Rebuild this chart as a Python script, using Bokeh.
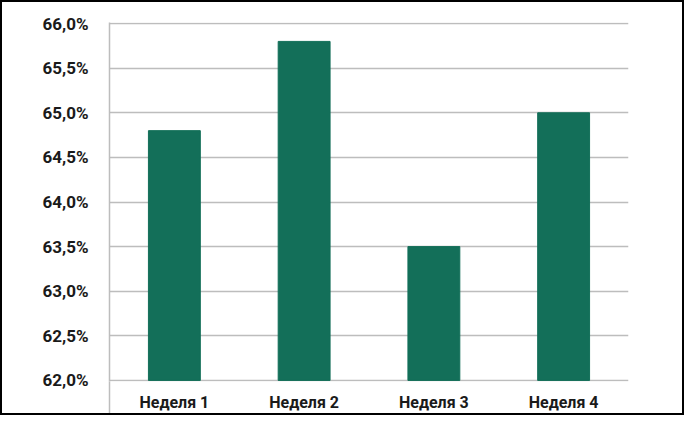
from bokeh.plotting import figure
from bokeh.models import Range1d, FixedTicker, LinearAxis
from bokeh.embed import file_html
from bokeh.resources import INLINE

categories = ["Неделя 1", "Неделя 2", "Неделя 3", "Неделя 4"]
values = [64.8, 65.8, 63.5, 65.0]
y_ticks = [62.0, 62.5, 63.0, 63.5, 64.0, 64.5, 65.0, 65.5, 66.0]
y_labels = ["62,0%", "62,5%", "63,0%", "63,5%", "64,0%", "64,5%", "65,0%", "65,5%", "66,0%"]

FONT = "Roboto"
BAR = "#136F59"
GRID = "#BDBDBD"

xs = [i + 0.5 for i in range(len(categories))]

p = figure(width=684, height=415, output_backend="svg", toolbar_location=None,
           x_range=Range1d(0, len(categories)),
           y_range=Range1d(y_ticks[0] - 0.012, y_ticks[-1] + 0.012),
           min_border_left=107, min_border_right=58, min_border_top=20, min_border_bottom=36,
           x_axis_location=None, y_axis_location=None)
p.outline_line_color = None
p.background_fill_color = "white"
p.border_fill_color = "white"
p.styles = {"border": "2px solid black", "box-sizing": "border-box"}

p.vbar(x=xs, top=values, bottom=y_ticks[0], width=0.4, color=BAR)

yaxis = LinearAxis(ticker=FixedTicker(ticks=y_ticks),
                   major_label_overrides={t: l for t, l in zip(y_ticks, y_labels)})
yaxis.axis_line_color = GRID
yaxis.axis_line_width = 1.5
yaxis.major_tick_line_color = None
yaxis.minor_tick_line_color = None
yaxis.major_label_text_font = FONT
yaxis.major_label_text_font_style = "bold"
yaxis.major_label_text_font_size = "17px"
yaxis.major_label_text_color = "#1a1a1a"
yaxis.major_label_standoff = 15
p.add_layout(yaxis, "left")

xaxis = LinearAxis(ticker=FixedTicker(ticks=xs, minor_ticks=[0]),
                   major_label_overrides={x: c for x, c in zip(xs, categories)})
xaxis.axis_line_color = None
xaxis.major_tick_line_color = None
xaxis.major_tick_out = 0
xaxis.major_tick_in = 0
xaxis.minor_tick_line_color = GRID
xaxis.minor_tick_line_width = 1.5
xaxis.minor_tick_in = 0
xaxis.minor_tick_out = 40
xaxis.major_label_text_font = FONT
xaxis.major_label_text_font_style = "bold"
xaxis.major_label_text_font_size = "16px"
xaxis.major_label_text_color = "#1a1a1a"
xaxis.major_label_standoff = -29
p.add_layout(xaxis, "below")

p.xgrid.visible = False
p.ygrid.ticker = FixedTicker(ticks=y_ticks)
p.ygrid.grid_line_color = GRID
p.ygrid.grid_line_width = 1.5

open("out.html", "w").write(file_html(p, INLINE))
